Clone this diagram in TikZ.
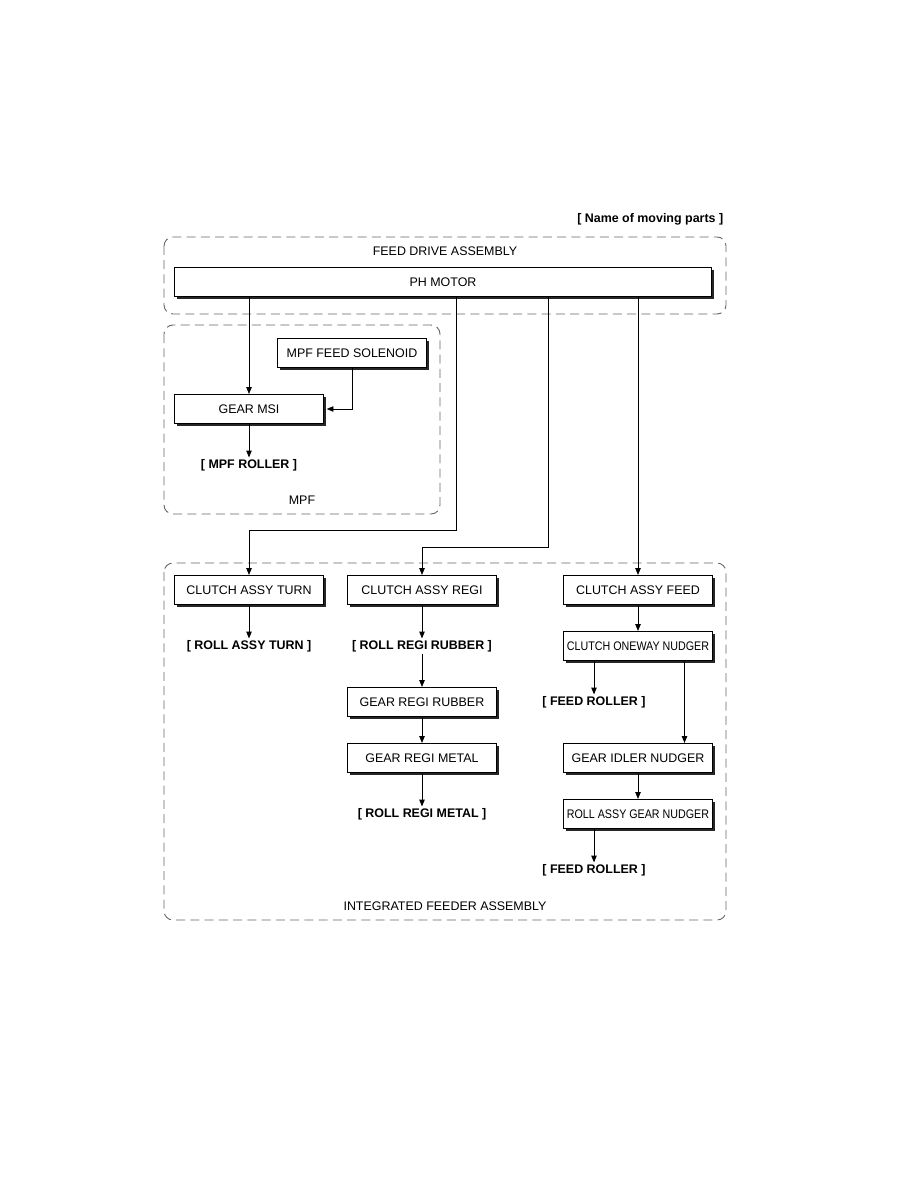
\documentclass[tikz,border=0pt]{standalone}
\usepackage{fontspec}
\setmainfont{Liberation Sans}
\usepackage{tikz}
\usetikzlibrary{arrows.meta,shadows}

\begin{document}
\begin{tikzpicture}[
        x=0.6667pt, y=-0.6667pt,
        every node/.style={font=\fontsize{8.3}{10}\selectfont},
        part/.style={
            draw,
            fill=white,
            rectangle,
            line width=0.6pt,
            minimum width=99pt,
            minimum height=19.5pt,
            inner sep=1pt,
            drop shadow={shadow xshift=1.7pt, shadow yshift=-1.7pt, fill=black!85, opacity=1}
        },
        moving/.style={
            inner sep=1pt,
            font=\fontsize{8.3}{10}\selectfont\bfseries
        },
        group/.style={
            draw=black!60,
            line width=0.6pt,
            dash pattern=on 6pt off 3.5pt,
            rounded corners=6pt
        },
        arrow/.style={
            -{Triangle[length=4.5pt,width=3.6pt]},
            line width=0.5pt
        }
    ]
    \useasboundingbox (0,0) rectangle (918,1188);

    \draw[group] (164,237) rectangle (726,314);
    \draw[group] (164,325) rectangle (440,514);
    \draw[group] (164,563) rectangle (726,920);

    \node[anchor=east, moving] (legend) at (725,219) {[ Name of moving parts ]};
    \node (fda) at (445,251) {FEED DRIVE ASSEMBLY};
    \node (mpf) at (302,500) {MPF};
    \node (ifa) at (445,906) {INTEGRATED FEEDER ASSEMBLY};

    \node[part, minimum width=358pt] (motor) at (443,282) {PH MOTOR};

    \node[part] (solenoid) at (352,353) {MPF FEED SOLENOID};
    \node[part] (msi) at (249,409) {GEAR MSI};
    \node[moving] (mpfroller) at (249,465) {[ MPF ROLLER ]};

    \node[part] (turn) at (249,590) {CLUTCH ASSY TURN};
    \node[moving] (rollturn) at (249,646) {[ ROLL ASSY TURN ]};

    \node[part] (regi) at (422,590) {CLUTCH ASSY REGI};
    \node[moving] (rollrubber) at (422,646) {[ ROLL REGI RUBBER ]};
    \node[part] (gearrubber) at (422,702) {GEAR REGI RUBBER};
    \node[part] (gearmetal) at (422,758) {GEAR REGI METAL};
    \node[moving] (rollmetal) at (422,814) {[ ROLL REGI METAL ]};

    \node[part] (feed) at (638,590) {CLUTCH ASSY FEED};
    \node[part] (oneway) at (638,646) {\scalebox{0.86}[1]{CLUTCH ONEWAY NUDGER}};
    \node[moving] (feedroller1) at (594,702) {[ FEED ROLLER ]};
    \node[part] (idler) at (638,758) {GEAR IDLER NUDGER};
    \node[part] (gearnudger) at (638,814) {\scalebox{0.86}[1]{ROLL ASSY GEAR NUDGER}};
    \node[moving] (feedroller2) at (594,870) {[ FEED ROLLER ]};

    \coordinate (turnbend) at (456,530);
    \coordinate (regibend) at (548,547);

    \draw[arrow] (motor.south -| msi.north) -- (msi.north);
    \draw[arrow] (solenoid.south) |- ([xshift=2pt]msi.east);
    \draw[arrow] (msi.south) -- (mpfroller.north);

    \draw[arrow] (motor.south -| turnbend) -- (turnbend) -| (turn.north);
    \draw[arrow] (motor.south -| regibend) -- (regibend) -| (regi.north);
    \draw[arrow] (motor.south -| feed.north) -- (feed.north);

    \draw[arrow] (turn.south) -- (rollturn.north);
    \draw[arrow] (regi.south) -- (rollrubber.north);
    \draw[arrow] (rollrubber.south) -- (gearrubber.north);
    \draw[arrow] (gearrubber.south) -- (gearmetal.north);
    \draw[arrow] (gearmetal.south) -- (rollmetal.north);

    \draw[arrow] (feed.south) -- (oneway.north);
    \draw[arrow] (oneway.south -| feedroller1.north) -- (feedroller1.north);
    \draw[arrow] ([xshift=31pt]oneway.south) -- ([xshift=31pt]idler.north);
    \draw[arrow] (idler.south) -- (gearnudger.north);
    \draw[arrow] (gearnudger.south -| feedroller2.north) -- (feedroller2.north);

\end{tikzpicture}
\end{document}
